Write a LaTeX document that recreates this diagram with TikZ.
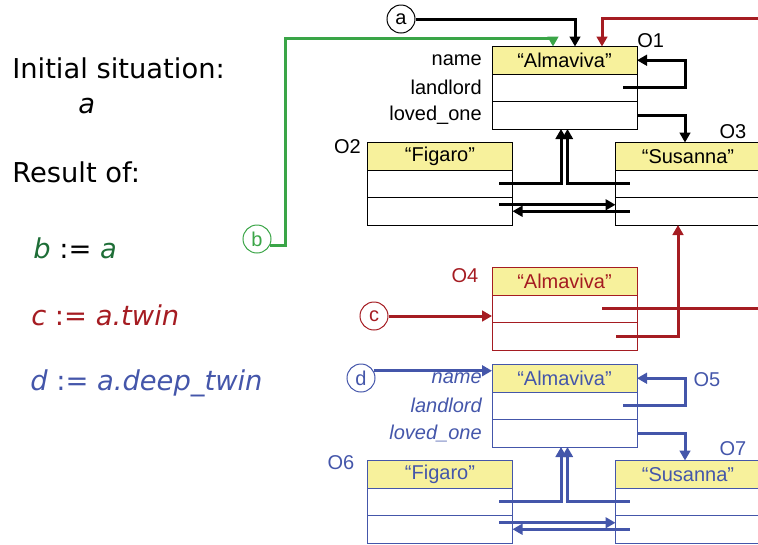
\documentclass[tikz,border=0pt]{standalone}
\usepackage{fontspec}
\setmainfont{Liberation Sans}
\newfontfamily\verd{DejaVu Sans}
\usetikzlibrary{positioning,calc,arrows.meta}
\definecolor{boxyellow}{HTML}{F7F19C}
\definecolor{linegreen}{HTML}{3AA547}
\definecolor{textgreen}{HTML}{1E6E37}
\definecolor{twinred}{HTML}{A51C22}
\definecolor{deepblue}{HTML}{4456AA}
\tikzset{
 field/.style={draw,line width=0.75pt,minimum width=108.75pt,minimum height=20.625pt,
   inner sep=0pt,outer sep=0pt,font=\fontsize{15}{18}\selectfont},
 head/.style={field,fill=boxyellow},
 ref/.style={line width=2.25pt,-{Triangle[length=7.5pt,width=8pt]}},
 var/.style={circle,draw,line width=0.75pt,minimum size=21pt,inner sep=0pt,
   font=\fontsize{15}{17}\selectfont},
 lbl/.style={font=\fontsize{15}{18}\selectfont,inner sep=0pt},
 big/.style={font=\verd\fontsize{20.5}{24}\selectfont,inner sep=0pt,anchor=base west}
}
\begin{document}
\begin{tikzpicture}[x=0.75pt,y=-0.75pt]
 \useasboundingbox (0,0) rectangle (758,544);
 \clip (0,0) rectangle (758,544);
 % variables
 \node[var] (a) at (401,19) {a};
 \node[var,linegreen] (b) at (257,239) {b};
 \node[var,twinred] (c) at (374,316) {c};
 \node[var,deepblue] (d) at (361,378) {d};
 % object structure a (black) and its deep twin (blue)
 \foreach \dy/\col/\i/\j/\k/\sh in {0/black/1/2/3/\upshape, 318/deepblue/5/6/7/\itshape} {
 \node[head,draw=\col,text=\col] (name\i) at (564.5,60.25+\dy) {“Almaviva”};
 \node[field,draw=\col,below=0pt of name\i] (land\i) {};
 \node[field,draw=\col,below=0pt of land\i] (love\i) {};
 \node[head,draw=\col,text=\col] (top\j) at (440,156.25+\dy) {“Figaro”};
 \node[field,draw=\col,below=0pt of top\j] (mid\j) {};
 \node[field,draw=\col,below=0pt of mid\j] (bot\j) {};
 \node[head,draw=\col,text=\col] (top\k) at (688,156.25+\dy) {“Susanna”};
 \node[field,draw=\col,below=0pt of top\k] (mid\k) {};
 \node[field,draw=\col,below=0pt of mid\k] (bot\k) {};
 \node[lbl,text=\col,left=7.5pt of name\i] (fname\i) {\sh name};
 \node[lbl,text=\col,left=7.5pt of land\i] (fland\i) {\sh landlord};
 \node[lbl,text=\col,left=7.5pt of love\i] (flove\i) {\sh loved\_one};
 \draw[ref,\col] ($(land\i.east)+(-14,0)$) -- ++(62,0) |- (name\i.east);
 \draw[ref,\col] (love\i.east) -| ($(top\k.north west)+(69.5,0)$);
 \draw[ref,\col] ($(mid\j.east)+(-13.5,0)$) -| ($(love\i.south west)+(69,0)$);
 \draw[ref,\col] ($(mid\k.west)+(14,0)$) -| ($(love\i.south west)+(75.5,0)$);
 \draw[ref,\col] ($(bot\j.east)+(-13.5,-6.5)$) -- ($(bot\k.west)+(0,-6.5)$);
 \draw[ref,\col] ($(bot\k.west)+(14,0)$) -- (bot\j.east);
 }
 % shallow twin
 \node[head,draw=twinred,text=twinred] (name4) at (564.5,281.25) {“Almaviva”};
 \node[field,draw=twinred,below=0pt of name4] (land4) {};
 \node[field,draw=twinred,below=0pt of land4] (love4) {};
 \node[lbl,anchor=west] (o1) at (637,41) {O1};
 \node[lbl,anchor=east] (o2) at (361,147) {O2};
 \node[lbl] (o3) at (733,132) {O3};
 \node[lbl,twinred] (o4) at (465,276) {O4};
 \node[lbl,deepblue] (o5) at (707,380) {O5};
 \node[lbl,deepblue] (o6) at (341,463) {O6};
 \node[lbl,deepblue] (o7) at (733,449) {O7};
 \draw[ref,black] (a.east) -| ($(name1.north west)+(83,0)$);
 \draw[ref,linegreen] (b.-25) -| (285,38) -| ($(name1.north west)+(61,0)$);
 \draw[ref,twinred] ($(land4.east)+(-35,0)$) -| (775,18) -| ($(name1.north west)+(110,0)$);
 \draw[ref,twinred] ($(love4.east)+(-21,0)$) -| ($(bot3.south west)+(62.5,0)$);
 \draw[ref,twinred] (c.east) -- (c.east -| land4.west);
 \draw[ref,deepblue] (d.30) -- (d.30 -| name5.west);
 % text on the left
 \node[big] (init) at (12,78) {Initial situation:};
 \node[big] (ta) at (78,113) {\itshape a};
 \node[big] (res) at (12,182) {Result of:};
 \node[big] (tb) at (33,258) {\textcolor{textgreen}{\itshape b} := \textcolor{textgreen}{\itshape a}};
 \node[big,twinred] (tc) at (31,325) {\itshape c \upshape:= \itshape a.twin};
 \node[big,deepblue] (td) at (30,390) {\itshape d \upshape:= \itshape a.deep\_twin};
\end{tikzpicture}
\end{document}
